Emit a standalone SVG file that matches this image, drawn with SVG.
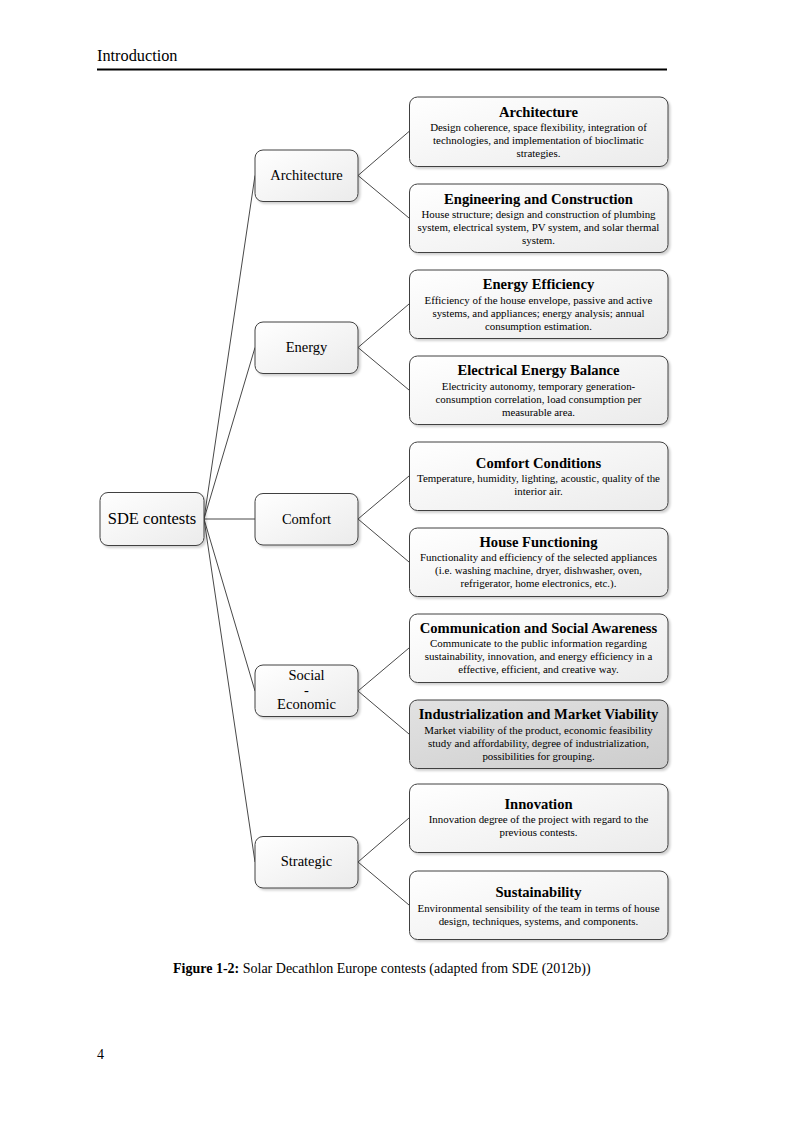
<svg xmlns="http://www.w3.org/2000/svg" width="794" height="1123" viewBox="0 0 794 1123">
<defs>
<linearGradient id="g" x1="0" y1="0" x2="1" y2="1">
<stop offset="0" stop-color="#ffffff"/>
<stop offset="1" stop-color="#ebebeb"/>
</linearGradient>
<linearGradient id="gd" x1="0" y1="0" x2="1" y2="1">
<stop offset="0" stop-color="#e2e2e2"/>
<stop offset="1" stop-color="#cdcdcd"/>
</linearGradient>
<filter id="sh" x="-10%" y="-10%" width="130%" height="140%">
<feDropShadow dx="2" dy="2" stdDeviation="1" flood-color="#000" flood-opacity="0.18"/>
</filter>
</defs>
<style>
.t{font-family:"Liberation Serif","Times New Roman",serif;fill:#000}
.box{fill:url(#g);stroke:#404040;stroke-width:1;filter:url(#sh)}
.dark{fill:url(#gd)}
.ttl{font-size:14.6px;font-weight:bold;text-anchor:middle}
.dsc{font-size:10.9px;text-anchor:middle}
.mid{font-size:14.5px;text-anchor:middle}
.cn line{stroke:#333;stroke-width:0.9;fill:none}
</style>
<rect width="794" height="1123" fill="#fff"/>
<text class="t" x="97" y="61" font-size="16.3">Introduction</text>
<line x1="97" y1="69.5" x2="667" y2="69.5" stroke="#000" stroke-width="2"/>

<g id="connectors" class="cn">
<line x1="204" y1="519" x2="255" y2="175.5"/>
<line x1="204" y1="519" x2="255" y2="347.5"/>
<line x1="204" y1="519" x2="255" y2="519"/>
<line x1="204" y1="519" x2="255" y2="691"/>
<line x1="204" y1="519" x2="255" y2="862"/>
<line x1="358" y1="175.5" x2="409" y2="131.5"/>
<line x1="358" y1="175.5" x2="409" y2="218"/>
<line x1="358" y1="347.5" x2="409" y2="304"/>
<line x1="358" y1="347.5" x2="409" y2="390"/>
<line x1="358" y1="519" x2="409" y2="476"/>
<line x1="358" y1="519" x2="409" y2="562"/>
<line x1="358" y1="691" x2="409" y2="648"/>
<line x1="358" y1="691" x2="409" y2="734"/>
<line x1="358" y1="862" x2="409" y2="818"/>
<line x1="358" y1="862" x2="409" y2="905"/>
</g>

<g id="sde">
<rect class="box" x="100" y="492.5" width="104" height="53" rx="8"/>
<text class="t" x="152" y="524" font-size="16.5" text-anchor="middle">SDE contests</text>
</g>

<g id="m-architecture">
<rect class="box" x="255" y="150" width="103" height="51.5" rx="8"/>
<text class="t mid" x="306.5" y="180">Architecture</text>
</g>
<g id="m-energy">
<rect class="box" x="255" y="322" width="103" height="51.5" rx="8"/>
<text class="t mid" x="306.5" y="352">Energy</text>
</g>
<g id="m-comfort">
<rect class="box" x="255" y="493.5" width="103" height="51.5" rx="8"/>
<text class="t mid" x="306.5" y="524">Comfort</text>
</g>
<g id="m-social">
<rect class="box" x="255" y="665" width="103" height="51.5" rx="8"/>
<text class="t mid" x="306.5" y="680" font-size="14">Social</text>
<text class="t mid" x="306.5" y="694.5" font-size="14">-</text>
<text class="t mid" x="306.5" y="709" font-size="14">Economic</text>
</g>
<g id="m-strategic">
<rect class="box" x="255" y="836.5" width="103" height="51.5" rx="8"/>
<text class="t mid" x="306.5" y="866">Strategic</text>
</g>

<g id="r-architecture">
<rect class="box" x="409.5" y="97" width="258.5" height="69.5" rx="8"/>
<text class="t ttl" x="538.5" y="117">Architecture</text>
<text class="t dsc" x="538.5" y="131">Design coherence, space flexibility, integration of</text>
<text class="t dsc" x="538.5" y="144">technologies, and implementation of  bioclimatic</text>
<text class="t dsc" x="538.5" y="157">strategies.</text>
</g>
<g id="r-engineering">
<rect class="box" x="409.5" y="184" width="258.5" height="68.5" rx="8"/>
<text class="t ttl" x="538.5" y="204">Engineering and Construction</text>
<text class="t dsc" x="538.5" y="218">House structure; design and construction of plumbing</text>
<text class="t dsc" x="538.5" y="231">system, electrical system, PV system, and solar thermal</text>
<text class="t dsc" x="538.5" y="244">system.</text>
</g>
<g id="r-energy-efficiency">
<rect class="box" x="409.5" y="270" width="258.5" height="68.5" rx="8"/>
<text class="t ttl" x="538.5" y="289">Energy Efficiency</text>
<text class="t dsc" x="538.5" y="304">Efficiency of the house envelope, passive and active</text>
<text class="t dsc" x="538.5" y="317">systems, and appliances; energy analysis; annual</text>
<text class="t dsc" x="538.5" y="330">consumption estimation.</text>
</g>
<g id="r-electrical">
<rect class="box" x="409.5" y="356" width="258.5" height="68.5" rx="8"/>
<text class="t ttl" x="538.5" y="375">Electrical Energy Balance</text>
<text class="t dsc" x="538.5" y="390">Electricity autonomy, temporary generation-</text>
<text class="t dsc" x="538.5" y="403">consumption correlation, load consumption per</text>
<text class="t dsc" x="538.5" y="416">measurable area.</text>
</g>
<g id="r-comfort-conditions">
<rect class="box" x="409.5" y="442" width="258.5" height="68.5" rx="8"/>
<text class="t ttl" x="538.5" y="468">Comfort Conditions</text>
<text class="t dsc" x="538.5" y="482">Temperature, humidity, lighting, acoustic, quality of the</text>
<text class="t dsc" x="538.5" y="495">interior air.</text>
</g>
<g id="r-house-functioning">
<rect class="box" x="409.5" y="528" width="258.5" height="68.5" rx="8"/>
<text class="t ttl" x="538.5" y="547">House Functioning</text>
<text class="t dsc" x="538.5" y="561">Functionality and efficiency of the selected appliances</text>
<text class="t dsc" x="538.5" y="574">(i.e. washing machine, dryer, dishwasher, oven,</text>
<text class="t dsc" x="538.5" y="587">refrigerator, home electronics, etc.).</text>
</g>
<g id="r-communication">
<rect class="box" x="409.5" y="614" width="258.5" height="68.5" rx="8"/>
<text class="t ttl" x="538.5" y="633">Communication and Social Awareness</text>
<text class="t dsc" x="538.5" y="647">Communicate to the public information regarding</text>
<text class="t dsc" x="538.5" y="660">sustainability, innovation, and energy efficiency in a</text>
<text class="t dsc" x="538.5" y="673">effective, efficient, and creative way.</text>
</g>
<g id="r-industrialization">
<rect class="box dark" x="409.5" y="700" width="258.5" height="68.5" rx="8"/>
<text class="t ttl" x="538.5" y="719">Industrialization and Market Viability</text>
<text class="t dsc" x="538.5" y="734">Market viability of the product, economic feasibility</text>
<text class="t dsc" x="538.5" y="747">study and affordability, degree of industrialization,</text>
<text class="t dsc" x="538.5" y="760">possibilities for grouping.</text>
</g>
<g id="r-innovation">
<rect class="box" x="409.5" y="784" width="258.5" height="68.5" rx="8"/>
<text class="t ttl" x="538.5" y="809">Innovation</text>
<text class="t dsc" x="538.5" y="823">Innovation degree of the project with regard to the</text>
<text class="t dsc" x="538.5" y="836">previous contests.</text>
</g>
<g id="r-sustainability">
<rect class="box" x="409.5" y="871" width="258.5" height="68.5" rx="8"/>
<text class="t ttl" x="538.5" y="897">Sustainability</text>
<text class="t dsc" x="538.5" y="912">Environmental sensibility of the team in terms of house</text>
<text class="t dsc" x="538.5" y="925">design, techniques, systems, and components.</text>
</g>

<text class="t" x="173" y="973" font-size="14"><tspan font-weight="bold">Figure 1-2:</tspan> Solar Decathlon Europe contests (adapted from SDE (2012b))</text>
<text class="t" x="97" y="1059" font-size="14">4</text>
</svg>
